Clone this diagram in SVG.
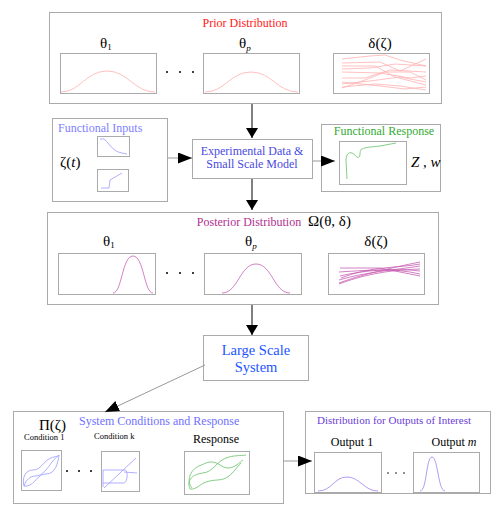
<svg xmlns="http://www.w3.org/2000/svg" width="498" height="512" viewBox="0 0 498 512">
<style>
.box{fill:#fff;stroke:#aaaaaa;stroke-width:1}
.plot{fill:#fff;stroke:#aaaaaa;stroke-width:1}
.t{font-family:"Liberation Serif","Times New Roman",serif}
.sym{font-family:"Liberation Serif","Times New Roman",serif;font-size:15px;fill:#000}
.dot{fill:#000}
.pink{fill:none;stroke:#ffb0b0;stroke-width:0.8}
.mag{fill:none;stroke:#c860b4;stroke-width:0.8}
.blu{fill:none;stroke:#9a9aff;stroke-width:0.8}
.grn{fill:none;stroke:#66c066;stroke-width:0.8}
.pur{fill:none;stroke:#a080ee;stroke-width:0.8}
.conn{fill:none;stroke-width:1}
</style>
<defs>
<marker id="ah" viewBox="0 0 14 11" refX="14" refY="5.5" markerWidth="14" markerHeight="11" markerUnits="userSpaceOnUse" orient="auto">
<path d="M0,0 L14,5.5 L0,11 Z" fill="#000"/>
</marker>
<marker id="av" viewBox="0 0 10 12" refX="10" refY="6" markerWidth="10" markerHeight="12" markerUnits="userSpaceOnUse" orient="auto">
<path d="M0,0 L10,6 L0,12 Z" fill="#000"/>
</marker>
</defs>
<rect width="498" height="512" fill="#fff"/>

<g id="prior">
<rect class="box" x="49.5" y="12.5" width="392" height="91"/>
<text class="t" x="245" y="27" font-size="12" fill="#ff2020" text-anchor="middle">Prior Distribution</text>
<text class="sym" x="100" y="48">θ<tspan font-size="9" dy="2">1</tspan></text>
<text class="sym" x="239" y="48">θ<tspan font-size="9" dy="3" font-style="italic">p</tspan></text>
<text class="sym" x="380" y="48" text-anchor="middle" font-size="16">δ(ζ)</text>
<rect class="plot" x="60.5" y="53.5" width="96" height="40"/>
<path class="pink" d="M61,92 C80,92 86,71 107,71 C128,71 134,92 155,92"/>
<circle class="dot" cx="167" cy="72" r="1"/><circle class="dot" cx="180" cy="72" r="1"/><circle class="dot" cx="193" cy="72" r="1"/>
<rect class="plot" x="203.5" y="53.5" width="96" height="40"/>
<path class="pink" d="M205,92 C225,92 230,72 251,72 C272,72 277,92 298,92"/>
<rect class="plot" x="333.5" y="53.5" width="96" height="40"/>
<path class="pink" d="M342,59 L370,56 L385,55 L400,60 L426,66"/>
<path class="pink" d="M342,63 L380,62 L400,71 L426,59"/>
<path class="pink" d="M342,69 L370,68 L395,64 L426,66"/>
<path class="pink" d="M342,72 L380,73 L410,78 L426,76"/>
<path class="pink" d="M342,78 L365,78 L390,70 L426,72"/>
<path class="pink" d="M342,84 L370,81 L400,77 L426,82"/>
<path class="pink" d="M342,88 L365,80 L385,72 L410,72 L426,80"/>
<path class="pink" d="M342,87 L375,84 L400,86 L426,90"/>
<path class="pink" d="M342,66 L375,66 L395,77 L426,85"/>
<path class="pink" d="M342,82 L380,86 L405,89 L426,87"/>
</g>

<g id="inputs">
<rect class="box" x="52.5" y="118.5" width="115" height="83"/>
<text class="t" x="58" y="132" font-size="12" fill="#8080ff">Functional Inputs</text>
<text class="sym" x="60" y="167" font-size="16">ζ(<tspan font-style="italic">t</tspan>)</text>
<rect class="plot" x="97.5" y="136.5" width="32" height="20"/>
<path class="blu" d="M100,139 L104,139 C108,142 111,148 116,151 C120,153 123,153 127,154"/>
<rect class="plot" x="97.5" y="169.5" width="31" height="22"/>
<path class="blu" d="M101,188 L109,188 L110,180 L122,173"/>
</g>

<g id="experimental">
<rect class="box" x="192.5" y="139.5" width="120" height="39"/>
<text class="t" x="252" y="155" font-size="12" fill="#4a4ae0" text-anchor="middle">Experimental Data &amp;</text>
<text class="t" x="252" y="168" font-size="12" fill="#4a4ae0" text-anchor="middle">Small Scale Model</text>
</g>

<g id="response">
<rect class="box" x="321.5" y="124.5" width="119" height="67"/>
<text class="t" x="384" y="135" font-size="12" fill="#33aa33" text-anchor="middle">Functional Response</text>
<rect class="plot" x="339.5" y="141.5" width="67" height="43"/>
<path class="grn" d="M347,179 L346,160 C346,154 349,152 352,153 C355,154 357,159 359,157 C361,155 359,150 362,149 C366,147 372,147 380,146 L396,143"/>
<text class="sym" x="411" y="167" font-style="italic">Z , w</text>
</g>

<g id="posterior">
<rect class="box" x="47.5" y="212.5" width="391" height="92"/>
<text class="t" x="249" y="226" font-size="12" fill="#b0308f" text-anchor="middle">Posterior Distribution</text>
<text class="sym" x="308" y="226" font-size="16">Ω(θ, δ)</text>
<text class="sym" x="103" y="246">θ<tspan font-size="9" dy="2">1</tspan></text>
<text class="sym" x="245" y="246">θ<tspan font-size="9" dy="3" font-style="italic">p</tspan></text>
<text class="sym" x="376" y="246" text-anchor="middle" font-size="16">δ(ζ)</text>
<rect class="plot" x="58.5" y="253.5" width="97" height="41"/>
<path class="mag" d="M113,293 C122,293 122,256 133,256 C144,256 144,293 153,293"/>
<circle class="dot" cx="167" cy="273" r="1"/><circle class="dot" cx="180" cy="273" r="1"/><circle class="dot" cx="193" cy="273" r="1"/>
<rect class="plot" x="204.5" y="253.5" width="97" height="41"/>
<path class="mag" d="M222,293 C238,293 240,264 256,264 C272,264 274,293 290,293"/>
<rect class="plot" x="328.5" y="253.5" width="96" height="41"/>
<path class="mag" d="M339,283 C360,275 390,268 420,262"/>
<path class="mag" d="M339,280 C365,272 395,270 420,266"/>
<path class="mag" d="M340,276 C365,270 395,268 420,271"/>
<path class="mag" d="M339,272 C370,270 395,268 420,274"/>
<path class="mag" d="M340,268 L380,268 L420,276"/>
<path class="mag" d="M341,278 C370,266 400,268 420,264"/>
<path class="mag" d="M339,284 C360,276 385,270 420,269"/>
</g>

<g id="largescale">
<rect class="box" x="203.5" y="335.5" width="105" height="45"/>
<text class="t" x="256" y="355" font-size="14.5" fill="#2255ff" text-anchor="middle">Large Scale</text>
<text class="t" x="256" y="372" font-size="14.5" fill="#2255ff" text-anchor="middle">System</text>
</g>

<g id="system">
<rect class="box" x="13.5" y="411.5" width="270" height="92"/>
<text class="sym" x="39" y="430" font-size="17">Π(ζ)</text>
<text class="t" x="79" y="425" font-size="12" fill="#7070ff">System Conditions and Response</text>
<text class="t" x="24" y="440" font-size="8.5" fill="#000">Condition 1</text>
<text class="t" x="94" y="439" font-size="8.5" fill="#000">Condition k</text>
<text class="t" x="216" y="443" font-size="12" fill="#000" text-anchor="middle">Response</text>
<rect class="plot" x="21.5" y="450.5" width="40" height="40"/>
<path class="blu" d="M24,486 C22,478 25,470 33,470 C41,470 43,462 49,459 C54,456 58,457 59,455 C58,462 56,474 46,474 C37,474 36,484 27,486 Z"/>
<path class="blu" d="M24,486 C26,480 30,476 36,476 C42,476 48,468 52,462 C55,458 57,457 59,455"/>
<circle class="dot" cx="67" cy="471" r="1"/><circle class="dot" cx="79" cy="471" r="1"/><circle class="dot" cx="91" cy="471" r="1"/>
<rect class="plot" x="101.5" y="451.5" width="38" height="40"/>
<path class="blu" d="M104,488 L136,458"/>
<path class="blu" d="M103,487 L103,470 L125,470 C128,470 128,482 124,483 L103,483"/>
<path class="blu" d="M124,472 L137,473"/>
<rect class="plot" x="184.5" y="451.5" width="65" height="43"/>
<path class="grn" d="M190,489 C186,480 193,474 203,473 C213,472 216,462 226,458 C234,455 240,456 246,455"/>
<path class="grn" d="M192,488 C186,481 190,470 199,466 C206,463 207,462 212,462 C218,462 222,468 228,468 C235,468 240,462 243,460"/>
<path class="grn" d="M190,489 C196,490 200,484 206,482 C215,479 220,481 226,478 C232,475 236,468 241,463"/>
</g>

<g id="outputs">
<rect class="box" x="305.5" y="411.5" width="185" height="82"/>
<text class="t" x="394" y="424" font-size="11" fill="#6a3dd6" text-anchor="middle">Distribution for Outputs of Interest</text>
<text class="t" x="352" y="446" font-size="12" fill="#000" text-anchor="middle">Output 1</text>
<text class="t" x="454" y="446" font-size="12" fill="#000" text-anchor="middle">Output <tspan font-style="italic">m</tspan></text>
<rect class="plot" x="314.5" y="452.5" width="67" height="40"/>
<path class="pur" d="M318,491 C332,491 334,477 347,477 C360,477 364,491 378,491"/>
<circle class="dot" cx="388" cy="473" r="0.8"/><circle class="dot" cx="396" cy="473" r="0.8"/><circle class="dot" cx="404" cy="473" r="0.8"/>
<rect class="plot" x="413.5" y="452.5" width="66" height="40"/>
<path class="pur" d="M420,491 C427,491 426,457 432,457 C438,457 438,491 445,491"/>
</g>

<g id="connectors">
<path class="conn" stroke="#000" d="M252,104 L252,138" marker-end="url(#av)"/>
<path class="conn" stroke="#999" d="M168,158 L192,158" marker-end="url(#ah)"/>
<path class="conn" stroke="#999" d="M313,161 L335,161" marker-end="url(#ah)"/>
<path class="conn" stroke="#000" d="M252,179 L252,210" marker-end="url(#av)"/>
<path class="conn" stroke="#000" d="M252,305 L252,335" marker-end="url(#av)"/>
<path class="conn" stroke="#999" d="M205,365 L105,412" marker-end="url(#ah)"/>
<path class="conn" stroke="#999" d="M283,461 L312,461" marker-end="url(#ah)"/>
</g>
</svg>
